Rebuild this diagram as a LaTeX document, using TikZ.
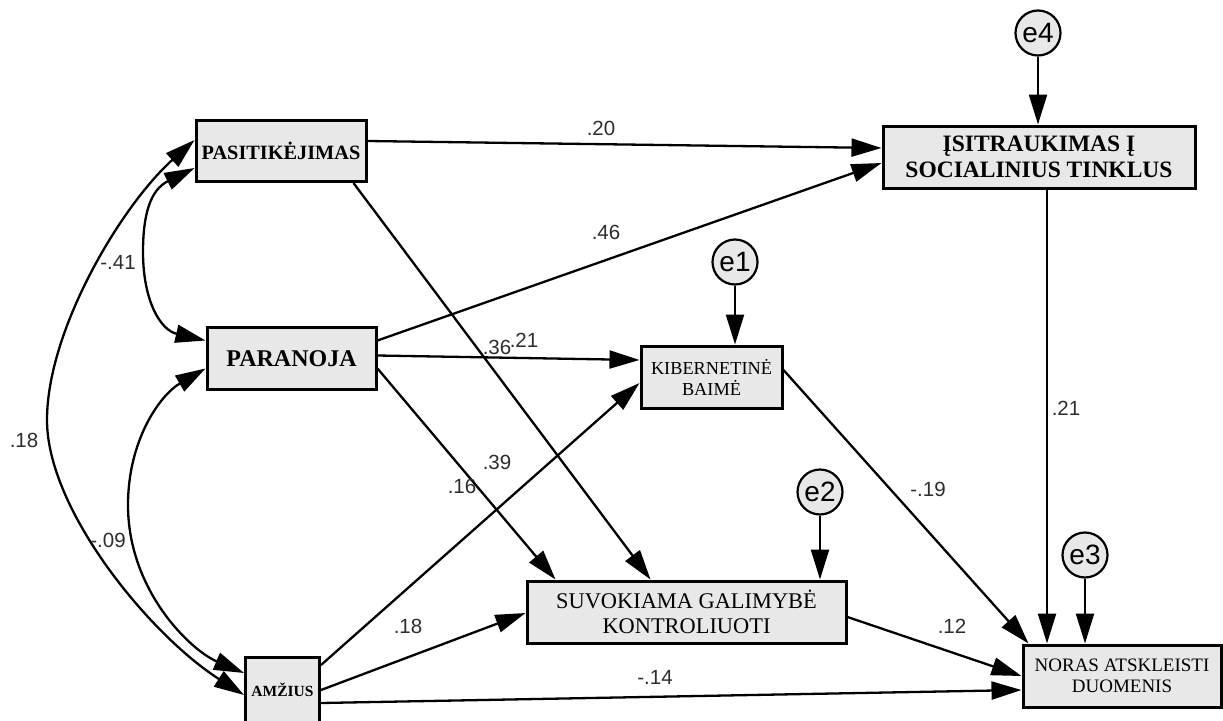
\documentclass[tikz,border=0pt]{standalone}
\usepackage{fontspec}
\setmainfont{Liberation Serif}
\setsansfont{Liberation Sans}
\usetikzlibrary{arrows.meta}
\definecolor{boxgray}{RGB}{232,232,232}
\definecolor{labgray}{RGB}{45,45,45}
\begin{document}
\begin{tikzpicture}[x=1pt,y=-1pt,
  box/.style={draw=black, line width=3pt, fill=boxgray, inner sep=0pt, align=center},
  err/.style={circle, draw=black, line width=2.2pt, fill=boxgray, inner sep=0pt, minimum size=45pt, font=\sffamily\fontsize{28}{28}\selectfont},
  conn/.style={line width=2.3pt, -{Triangle[length=30pt,width=18pt]}},
  cov/.style={line width=2.3pt, {Triangle[length=30pt,width=18pt]}-{Triangle[length=30pt,width=18pt]}},
  lab/.style={font=\sffamily\fontsize{20.5}{20.5}\selectfont, text=labgray, inner sep=0pt}
]
\useasboundingbox (0,0) rectangle (1223,720);

% boxes
\node[box, minimum width=170pt, minimum height=61pt, font=\bfseries\fontsize{20.3}{22}\selectfont] (pas) at (281,151) {PASITIKĖJIMAS};
\node[box, minimum width=312pt, minimum height=62pt, font=\bfseries\fontsize{23.5}{25.5}\selectfont] (isi) at (1039,157) {ĮSITRAUKIMAS Į\\SOCIALINIUS TINKLUS};
\node[box, minimum width=169pt, minimum height=62pt, font=\bfseries\fontsize{24}{26}\selectfont] (par) at (291.5,358.5) {PARANOJA};
\node[box, minimum width=141pt, minimum height=62pt, font=\fontsize{18.3}{21}\selectfont] (kib) at (711.5,377) {KIBERNETINĖ\\BAIMĖ};
\node[box, minimum width=319pt, minimum height=62pt, font=\fontsize{22.4}{25.5}\selectfont] (suv) at (686.5,612) {SUVOKIAMA GALIMYBĖ\\KONTROLIUOTI};
\node[box, minimum width=198pt, minimum height=62pt, font=\fontsize{19}{21}\selectfont] (nor) at (1122,676) {NORAS ATSKLEISTI\\DUOMENIS};
\node[box, minimum width=74pt, minimum height=66pt, font=\bfseries\fontsize{15.5}{17}\selectfont] (amz) at (282.5,690) {AMŽIUS};

% error terms
\node[err] (e4) at (1038,33) {e4};
\node[err] (e1) at (735,262) {e1};
\node[err] (e2) at (820,492) {e2};
\node[err] (e3) at (1085,555) {e3};

% error arrows
\draw[conn] (e4.south) -- (e4.south |- isi.north);
\draw[conn] (e1.south) -- (e1.south |- kib.north);
\draw[conn] (e2.south) -- (e2.south |- suv.north);
\draw[conn] (e3.south) -- (e3.south |- nor.north);

% directed paths
\draw[conn] ([yshift=10pt]pas.east) -- ([yshift=9pt]isi.west);
\draw[conn] ([yshift=18pt]par.east) -- ([yshift=-6pt]isi.west);
\draw[conn] ([xshift=-14pt]pas.south east) -- ([xshift=-36pt]suv.north);
\draw[conn] ([yshift=-10pt]par.east) -- ([xshift=-131pt]suv.north);
\draw[conn] ([yshift=3pt]par.east) -- ([yshift=17pt]kib.west);
\draw[conn] ([yshift=25pt]amz.east) -- ([yshift=-6pt]kib.west);
\draw[conn] (amz.east) -- ([yshift=-1pt]suv.west);
\draw[conn] ([yshift=-13pt]amz.east) -- ([yshift=-14pt]nor.west);
\draw[conn] ([yshift=-5pt]suv.east) -- (nor.west);
\draw[conn] ([yshift=7pt]kib.east) -- ([xshift=7pt]nor.north west);
\draw[conn] ([xshift=8pt]isi.south) -- ([xshift=8pt]isi.south |- nor.north);

% covariances
\draw[cov] ([yshift=11pt]pas.west) .. controls (121,206) and (47,330) .. (47,420)
  .. controls (47,510) and (150,635) .. ([yshift=-5pt]amz.west);
\draw[cov] ([yshift=-17pt]pas.west) .. controls (150,190) and (143,215) .. (143,252)
  .. controls (143,300) and (160,330) .. ([yshift=18pt]par.west);
\draw[cov] ([yshift=-10pt]par.west) .. controls (160,395) and (128,440) .. (128,505)
  .. controls (128,590) and (190,650) .. ([yshift=17pt]amz.west);

% labels
\node[lab] (l1) at (601,128) {.20};
\node[lab] (l2) at (606,232) {.46};
\node[lab] (l3) at (497,347) {.36};
\node[lab] (l4) at (524,340) {.21};
\node[lab] (l5) at (497,462) {.39};
\node[lab] (l6) at (462,486) {.16};
\node[lab] (l7) at (408,626) {.18};
\node[lab] (l8) at (655,677) {-.14};
\node[lab] (l9) at (952,626) {.12};
\node[lab] (l10) at (928,489) {-.19};
\node[lab] (l11) at (1066,408) {.21};
\node[lab] (l12) at (118,262) {-.41};
\node[lab] (l13) at (24,440) {.18};
\node[lab] (l14) at (108,540) {-.09};
\end{tikzpicture}
\end{document}
